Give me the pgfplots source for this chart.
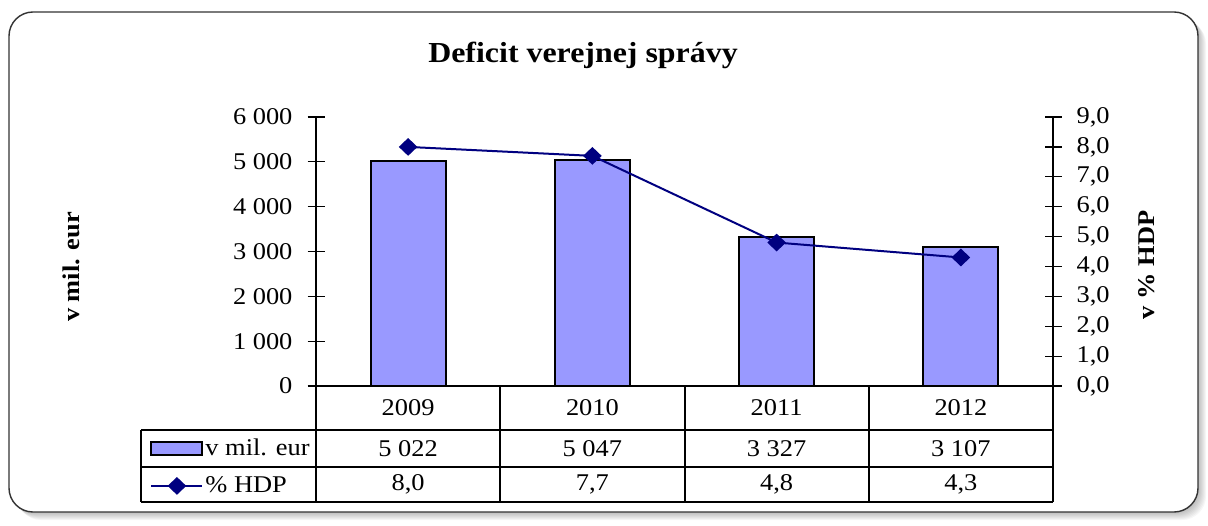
\documentclass[border=0pt]{standalone}
\usepackage{pgfplots}
\pgfplotsset{compat=1.18}
\usepackage{fontspec}
\setmainfont{Liberation Serif}[FakeStretch=1.1]
\definecolor{barblue}{HTML}{9999FF}
\definecolor{linenavy}{HTML}{000080}

\begin{document}
\begin{tikzpicture}[x=0.5pt,y=0.5pt]
\useasboundingbox (0,0) rectangle (1208,525);
% frame with soft shadow
\foreach \i in {1,...,8}
  \fill[black,opacity=0.035,rounded corners=12pt] ({9+\i},{13-\i}) rectangle ({1198+\i},{513-\i});
\filldraw[fill=white, draw=black!80, line width=0.7pt, rounded corners=12pt] (9,13) rectangle (1198,513);

\node[font=\bfseries\fontsize{14.5}{17}\selectfont] at (583,470) {Deficit verejnej správy};
\node[rotate=90, font=\bfseries\fontsize{12}{14}\selectfont] at (71,258) {v mil. eur};
\node[rotate=90, font=\bfseries\fontsize{12}{14}\selectfont] at (1147,260) {v \% HDP};

\coordinate (O) at (316,139);

\pgfplotsset{
  common/.style={
    at={(O)}, anchor=south west, scale only axis,
    width=368.5pt, height=134.5pt,
    xmin=-0.5, xmax=3.5, clip=false,
    tick align=center, major tick length=8.5pt,
    tick style={black, line width=0.6pt},
    axis line style={line width=0.6pt},
    ticklabel style={font=\fontsize{12}{14}\selectfont},
  }
}

\begin{axis}[common,
  ymin=0, ymax=6000,
  axis x line*=bottom, axis y line*=left,
  xtick=\empty,
  ytick={0,1000,2000,3000,4000,5000,6000},
  yticklabels={0,1 000,2 000,3 000,4 000,5 000,6 000},
  yticklabel style={xshift=-4pt},
  ybar, bar width=37.5pt]
\addplot[fill=barblue, draw=black, line width=1pt]
  coordinates {(0,5022) (1,5047) (2,3327) (3,3107)};
\end{axis}

\begin{axis}[common,
  ymin=0, ymax=9,
  axis x line=none, axis y line*=right,
  ytick={0,1,2,3,4,5,6,7,8,9},
  yticklabels={{0,0},{1,0},{2,0},{3,0},{4,0},{5,0},{6,0},{7,0},{8,0},{9,0}},
  yticklabel style={xshift=4pt},
  legend style={at={(-0.2374,-0.1636)}, anchor=north west, draw=none, fill=none,
    inner xsep=4.5pt, inner ysep=0pt, row sep=0pt,
    font=\fontsize{12}{14}\selectfont,
    nodes={inner sep=1pt, minimum height=18.5pt, anchor=west}},
  legend cell align=left]
\addlegendimage{legend image code/.code={
  \draw[fill=barblue, draw=black, line width=1pt] (0pt,-3.25pt) rectangle (25.5pt,3.25pt);}}
\addlegendentry{v mil. eur}
\addplot[linenavy, line width=1pt, mark=diamond*, mark size=3.75pt,
  mark options={xscale=1.4},
  legend image code/.code={
    \draw[mark repeat=2, mark phase=2] plot coordinates {(0pt,0pt) (12.75pt,0pt) (25.5pt,0pt)};}]
  coordinates {(0,8.0) (1,7.7) (2,4.8) (3,4.3)};
\addlegendentry{\% HDP}
\end{axis}

% data table under the plot
\draw[line width=0.8pt] (141,95) -- (1053,95) (141,58) -- (1053,58) (141,23) -- (1053,23) (141,95) -- (141,23);
\foreach \x in {316,500,685,869,1053}
  \draw[line width=0.8pt] (\x,139) -- (\x,23);
\begin{scope}[every node/.style={font=\fontsize{12}{14}\selectfont}]
\node at (408.1,117) {2009};
\node at (592.4,117) {2010};
\node at (776.6,117) {2011};
\node at (960.9,117) {2012};
\node at (408.1,76.5) {5 022};
\node at (592.4,76.5) {5 047};
\node at (776.6,76.5) {3 327};
\node at (960.9,76.5) {3 107};
\node at (408.1,40.5) {8,0};
\node at (592.4,40.5) {7,7};
\node at (776.6,40.5) {4,8};
\node at (960.9,40.5) {4,3};
\end{scope}
\end{tikzpicture}
\end{document}
